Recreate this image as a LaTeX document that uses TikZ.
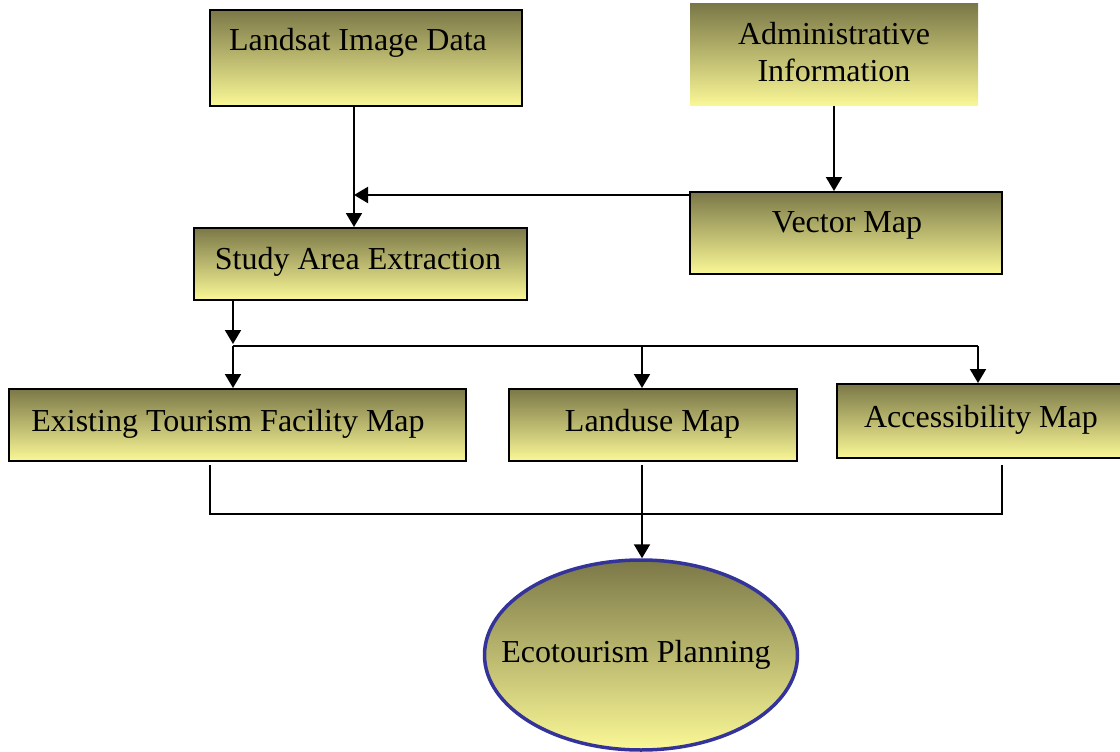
\documentclass[tikz,border=0pt]{standalone}
\usepackage{fontspec}
\setmainfont{Liberation Serif}
\usetikzlibrary{arrows.meta,shapes.geometric}
\definecolor{olivetop}{RGB}{123,120,72}
\definecolor{yellowbot}{RGB}{250,248,150}
\definecolor{ellborder}{RGB}{51,51,153}
\tikzset{
  box/.style={draw=black, line width=2pt, top color=olivetop, bottom color=yellowbot,
    inner sep=0pt, anchor=center},
  plainbox/.style={draw=none, top color=olivetop, bottom color=yellowbot, inner sep=0pt, anchor=center},
  lbl/.style={font=\fontsize{32}{37}\selectfont, inner sep=0pt, anchor=base, text=black},
  conn/.style={draw=black, line width=2pt},
  arr/.style={conn, -{Triangle[length=14pt,width=16pt]}},
}
\begin{document}
\begin{tikzpicture}[x=1pt,y=-1pt]
\useasboundingbox (0,0) rectangle (1120,752);
% boxes
\node[box, minimum width=312pt, minimum height=96pt] (landsat) at (366,58) {};
\node[plainbox, minimum width=288pt, minimum height=102pt] (admin) at (834,55) {};
\node[box, minimum width=312pt, minimum height=82pt] (vector) at (846,233) {};
\node[box, minimum width=333pt, minimum height=72pt] (study) at (360.5,264) {};
\node[box, minimum width=457pt, minimum height=72pt] (exist) at (237.5,425) {};
\node[box, minimum width=288pt, minimum height=72pt] (landuse) at (652.5,425) {};
\node[box, minimum width=284pt, minimum height=74pt] (access) at (979,421) {};
\node[ellipse, draw=ellborder, line width=3.5pt, top color=olivetop, bottom color=yellowbot,
  minimum width=313pt, minimum height=190pt, inner sep=0pt] (eco) at (641,655) {};
% labels
\node[lbl] (landsat-t) at (358,51) {Landsat Image Data};
\node[font=\fontsize{32}{37}\selectfont, inner sep=0pt, align=center, anchor=center] (admin-t) at (834,52) {Administrative\\Information};
\node[lbl] (vector-t) at (847,232) {Vector Map};
\node[lbl] (study-t) at (358,269) {Study Area Extraction};
\node[lbl] (exist-t) at (228,431) {Existing Tourism Facility Map};
\node[lbl] (landuse-t) at (652.5,431) {Landuse Map};
\node[lbl] (access-t) at (981,427) {Accessibility Map};
\node[lbl] (eco-t) at (636,662) {Ecotourism Planning};
% helper coordinates
\coordinate (xA) at (354,0);
\coordinate (yB) at (0,195);
\coordinate (xC) at (834,0);
\coordinate (xD) at (233,0);
\coordinate (ySplit) at (0,346);
\coordinate (xL) at (642,0);
\coordinate (xR) at (978,0);
\coordinate (xBL) at (210,0);
\coordinate (xBR) at (1002,0);
\coordinate (yJoin) at (0,514);
\coordinate (yLow) at (0,465);
% connectors
\draw[arr] (landsat.south -| xA) -- (study.north -| xA);
\draw[arr] (vector.west |- yB) -- (xA |- yB);
\draw[arr] (admin.south -| xC) -- (vector.north -| xC);
\draw[arr, shorten >=2pt] (study.south -| xD) -- (xD |- ySplit);
\draw[conn] (xD |- ySplit) -- (xR |- ySplit);
\draw[arr] (xD |- ySplit) -- (exist.north -| xD);
\draw[arr] (xL |- ySplit) -- (landuse.north -| xL);
\draw[arr] (xR |- ySplit) -- (access.north -| xR);
\draw[conn] (xBL |- yLow) -- (xBL |- yJoin) -- (xBR |- yJoin) -- (xBR |- yLow);
\draw[arr] (xL |- yLow) -- (xL |- eco.north);
\end{tikzpicture}
\end{document}
